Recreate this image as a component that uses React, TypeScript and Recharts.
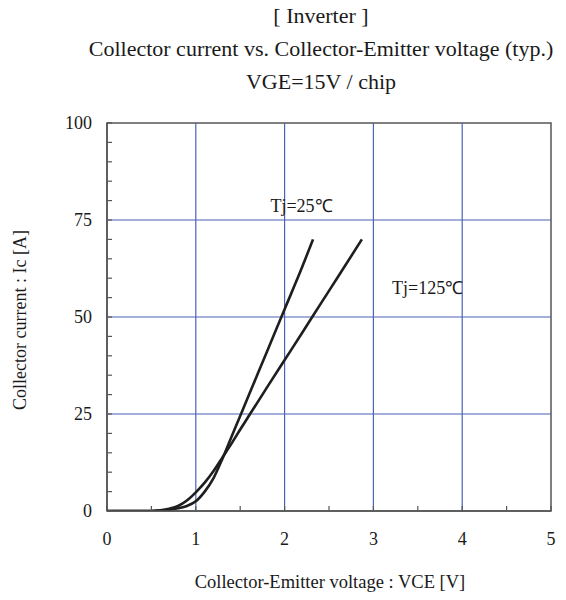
import { LineChart, Line, XAxis, YAxis, ReferenceLine, ReferenceArea, ReferenceDot } from 'recharts';

// Typical output characteristics, VGE = 15V, per chip
const tj25 = [
  { vce: 0, ic: 0 },
  { vce: 0.5, ic: 0 },
  { vce: 0.6, ic: 0.1 },
  { vce: 0.7, ic: 0.3 },
  { vce: 0.8, ic: 0.7 },
  { vce: 0.9, ic: 1.3 },
  { vce: 1.0, ic: 2.5 },
  { vce: 1.1, ic: 5 },
  { vce: 1.2, ic: 8.5 },
  { vce: 1.3, ic: 13.5 },
  { vce: 1.4, ic: 19 },
  { vce: 1.5, ic: 24.5 },
  { vce: 1.6, ic: 30 },
  { vce: 1.8, ic: 41 },
  { vce: 2.0, ic: 52 },
  { vce: 2.2, ic: 63 },
  { vce: 2.32, ic: 70 }
];

const tj125 = [
  { vce: 0, ic: 0 },
  { vce: 0.5, ic: 0 },
  { vce: 0.6, ic: 0.2 },
  { vce: 0.7, ic: 0.6 },
  { vce: 0.8, ic: 1.3 },
  { vce: 0.9, ic: 2.7 },
  { vce: 1.0, ic: 4.8 },
  { vce: 1.1, ic: 7.3 },
  { vce: 1.2, ic: 10.3 },
  { vce: 1.3, ic: 13.8 },
  { vce: 1.4, ic: 17.3 },
  { vce: 1.5, ic: 21 },
  { vce: 1.6, ic: 24.6 },
  { vce: 1.8, ic: 31.8 },
  { vce: 2.0, ic: 38.9 },
  { vce: 2.2, ic: 46 },
  { vce: 2.4, ic: 53.2 },
  { vce: 2.6, ic: 60.3 },
  { vce: 2.87, ic: 70 }
];

const xTicks = [0, 0.5, 1, 1.5, 2, 2.5, 3, 3.5, 4, 4.5, 5];
const yTicks = [0, 5, 10, 15, 20, 25, 30, 35, 40, 45, 50, 55, 60, 65, 70, 75, 80, 85, 90, 95, 100];
const xGrid = [1, 2, 3, 4];
const yGrid = [25, 50, 75];

const curveLabels = [
  { text: 'Tj=25℃', x: 2.19, y: 78.5 },
  { text: 'Tj=125℃', x: 3.61, y: 57.6 }
];

const titleLines = ['[ Inverter ]', 'Collector current vs. Collector-Emitter voltage (typ.)', 'VGE=15V / chip'];

const serif = '"Liberation Serif", "Times New Roman", serif';
const gridBlue = '#4c62b6';
const axisGray = '#555';
const curveColor = '#1e1e1e';
const textColor = '#1a1a1a';

export default function App() {
  return (
    <div style={{ position: 'absolute', left: 0, top: 0, width: 566, height: 600, background: '#fff', fontFamily: serif, color: textColor }}>
      {titleLines.map((t, i) => (
        <div
          key={t}
          style={{ position: 'absolute', left: 0, width: 642, top: 2 + i * 33, textAlign: 'center', fontSize: 22, lineHeight: '28px', whiteSpace: 'nowrap' }}
        >
          {t}
        </div>
      ))}
      <div style={{ position: 'absolute', left: 20, top: 320, transform: 'translate(-50%, -50%) rotate(-90deg)', fontSize: 18, whiteSpace: 'nowrap' }}>
        Collector current : Ic [A]
      </div>
      <div style={{ position: 'absolute', left: 330, top: 582, transform: 'translate(-50%, -50%)', fontSize: 18.5, whiteSpace: 'nowrap' }}>
        Collector-Emitter voltage : VCE [V]
      </div>
      <div style={{ position: 'absolute', left: 0, top: 0 }}>
        <LineChart width={566} height={600} margin={{ top: 123, right: 15, bottom: 0, left: 0 }}>
          <XAxis
            dataKey="vce"
            type="number"
            domain={[0, 5]}
            ticks={xTicks}
            interval={0}
            height={89}
            tickSize={-5}
            tickMargin={26}
            tickFormatter={(v: number) => (Number.isInteger(v) ? String(v) : '')}
            tick={{ fill: textColor, fontSize: 18, fontFamily: serif }}
            axisLine={{ stroke: axisGray, strokeWidth: 1.5 }}
            tickLine={{ stroke: axisGray, strokeWidth: 1.2 }}
            allowDataOverflow
          />
          <YAxis
            dataKey="ic"
            type="number"
            domain={[0, 100]}
            ticks={yTicks}
            interval={0}
            width={107}
            tickSize={-5}
            tickMargin={20}
            tickFormatter={(v: number) => (v % 25 === 0 ? String(v) : '')}
            tick={{ fill: textColor, fontSize: 18, fontFamily: serif }}
            axisLine={{ stroke: axisGray, strokeWidth: 1.5 }}
            tickLine={{ stroke: axisGray, strokeWidth: 1.2 }}
            allowDataOverflow
          />
          {xGrid.map((x) => (
            <ReferenceLine key={`gx${x}`} x={x} stroke={gridBlue} strokeWidth={1.2} />
          ))}
          {yGrid.map((y) => (
            <ReferenceLine key={`gy${y}`} y={y} stroke={gridBlue} strokeWidth={1.2} />
          ))}
          <ReferenceArea x1={0} x2={5} y1={0} y2={100} fill="none" fillOpacity={0} stroke={axisGray} strokeWidth={1.5} />
          <Line data={tj25} dataKey="ic" type="monotone" stroke={curveColor} strokeWidth={2.6} dot={false} isAnimationActive={false} />
          <Line data={tj125} dataKey="ic" type="monotone" stroke={curveColor} strokeWidth={2.6} dot={false} isAnimationActive={false} />
          {curveLabels.map((l) => (
            <ReferenceDot
              key={l.text}
              x={l.x}
              y={l.y}
              r={0}
              shape={(p: any) => (
                <text x={p.cx} y={p.cy} textAnchor="middle" dominantBaseline="central" fontSize={18} fontFamily={serif} fill={textColor}>
                  {l.text}
                </text>
              )}
            />
          ))}
        </LineChart>
      </div>
    </div>
  );
}
